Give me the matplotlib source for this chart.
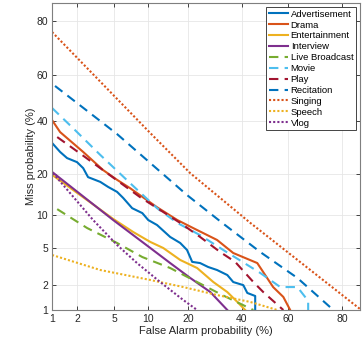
from statistics import NormalDist
import numpy as np
import matplotlib
matplotlib.use('Agg')
import matplotlib.pyplot as plt

plt.rcParams['font.family'] = ['Liberation Sans', 'DejaVu Sans']

# DET curves, values in percent: (false alarm, miss)
adv_fa = [1.0, 1.26, 1.53, 2.0, 2.35, 2.66, 3.6, 4.33, 5.3, 6.06, 7.33, 9.0, 10.1, 11.9, 15.0, 17.7,
          19.7, 21.3, 23.9, 26.7, 30.0, 34.0, 36.4, 40.6, 42.3, 45.7, 45.7]
adv_miss = [31.0, 27.6, 25.4, 24.0, 22.0, 19.2, 17.8, 16.4, 15.1, 13.6, 11.3, 10.3, 9.0, 8.15, 6.35, 5.57,
            4.76, 3.6, 3.5, 3.18, 2.95, 2.6, 2.17, 2.0, 1.62, 1.49, 1.0]
drama_fa = [1.0, 1.26, 2.35, 3.84, 5.3, 7.0, 11.9, 16.9, 21.6, 30.0, 36.4, 46.6, 53.5, 57.9, 60.8]
drama_miss = [40.3, 35.3, 27.6, 21.4, 18.4, 16.1, 11.5, 9.0, 7.66, 5.95, 4.44, 3.5, 1.9, 1.45, 1.0]
ent_fa = [1.0, 4.86, 7.5, 10.5, 13.3, 17.7, 22.9, 28.6, 34.0, 38.1, 41.4]
ent_miss = [19.9, 9.2, 7.05, 5.7, 4.98, 3.77, 3.1, 2.17, 1.66, 1.26, 1.0]
int_fa = [1.0, 4.86, 10.5, 15.0, 20.7, 27.5, 34.0]
int_miss = [20.8, 9.0, 4.98, 3.5, 2.41, 1.66, 1.0]
live_fa = [1.16, 2.6, 5.3, 9.0, 15.0, 22.9, 32.0, 44.9]
live_miss = [11.1, 7.66, 5.57, 4.04, 3.1, 2.17, 1.53, 1.0]
movie_fa = [1.0, 1.9, 3.6, 7.0, 11.9, 16.9, 23.9, 32.4, 47.9, 56.6, 63.8, 68.1, 68.1]
movie_miss = [45.5, 36.1, 26.5, 17.5, 11.3, 8.5, 6.6, 4.76, 2.74, 1.9, 1.9, 1.3, 1.0]
play_fa = [1.16, 2.29, 4.23, 8.6, 17.7, 23.9, 31.2, 37.2, 44.9, 49.2, 57.9]
play_miss = [33.3, 26.5, 20.4, 13.8, 8.5, 6.35, 4.54, 3.6, 2.17, 1.66, 1.0]
rec_fa = [1.09, 5.3, 10.5, 19.7, 32.0, 47.9, 63.8, 77.2]
rec_miss = [55.1, 34.5, 23.7, 14.3, 8.5, 4.54, 2.41, 1.0]
sing_fa = [1.0, 10.5, 20.7, 43.6, 85.0]
sing_miss = [76.4, 34.9, 20.4, 8.5, 1.03]
speech_fa = [1.0, 3.6, 10.5, 18.6, 30.0, 43.6, 55.3]
speech_miss = [4.24, 2.95, 2.29, 1.9, 1.53, 1.26, 1.0]
vlog_fa = [1.03, 3.02, 5.3, 8.1, 12.6, 18.6, 22.9]
vlog_miss = [20.4, 9.0, 5.33, 3.5, 2.17, 1.33, 1.0]

ticks = [1, 2, 5, 10, 20, 40, 60, 80]

# probit (normal deviate) scale for both axes
_nd = NormalDist()
_ppf = np.vectorize(_nd.inv_cdf, otypes=[float])
_cdf = np.vectorize(_nd.cdf, otypes=[float])

def fwd(p):
    p = np.clip(np.asarray(p, dtype=float) / 100.0, 1e-9, 1 - 1e-9)
    return _ppf(p)

def inv(z):
    return 100.0 * _cdf(np.asarray(z, dtype=float))

fig = plt.figure(figsize=(3.64, 3.39), dpi=100)
ax = fig.add_axes([0.143, 0.0855, 0.846, 0.9055])
ax.set_xscale('function', functions=(fwd, inv))
ax.set_yscale('function', functions=(fwd, inv))

lw = 1.5
dash = (4.5, 3.0)
dot = (1, 1)
ax.plot(adv_fa, adv_miss, color='#0072BD', lw=lw, label='Advertisement')
ax.plot(drama_fa, drama_miss, color='#D95319', lw=lw, label='Drama')
ax.plot(ent_fa, ent_miss, color='#EDB120', lw=lw, label='Entertainment')
ax.plot(int_fa, int_miss, color='#7E2F8E', lw=lw, label='Interview')
ax.plot(live_fa, live_miss, color='#77AC30', lw=lw, dashes=dash, label='Live Broadcast')
ax.plot(movie_fa, movie_miss, color='#4DBEEE', lw=lw, dashes=dash, label='Movie')
ax.plot(play_fa, play_miss, color='#A2142F', lw=lw, dashes=dash, label='Play')
ax.plot(rec_fa, rec_miss, color='#0072BD', lw=lw, dashes=dash, label='Recitation')
ax.plot(sing_fa, sing_miss, color='#D95319', lw=lw, dashes=dot, label='Singing')
ax.plot(speech_fa, speech_miss, color='#EDB120', lw=lw, dashes=dot, label='Speech')
ax.plot(vlog_fa, vlog_miss, color='#7E2F8E', lw=lw, dashes=dot, label='Vlog')

ax.set_xlim(1, 85)
ax.set_ylim(1, 85)
ax.set_xticks(ticks)
ax.set_yticks(ticks)
ax.set_xticklabels([str(t) for t in ticks])
ax.set_yticklabels([str(t) for t in ticks])
ax.minorticks_off()
ax.tick_params(direction='in', length=3, width=0.6, labelsize=7.5, colors='#262626',
               top=True, right=True, pad=3)
ax.grid(True, color='#e6e6e6', lw=0.6)
for s in ax.spines.values():
    s.set_color('#7f7f7f')
    s.set_linewidth(0.8)

ax.set_xlabel('False Alarm probability (%)', fontsize=8, color='#262626', labelpad=1)
ax.set_ylabel('Miss probability (%)', fontsize=8, color='#262626', labelpad=0)

leg = ax.legend(loc='upper right', fontsize=6.8, handlelength=2.0, handletextpad=0.3,
                labelspacing=0.2, borderpad=0.3, borderaxespad=0.4, fancybox=False,
                framealpha=1)
leg.get_frame().set_edgecolor('#262626')
leg.get_frame().set_linewidth(0.6)

plt.savefig('out.png', dpi=100)
